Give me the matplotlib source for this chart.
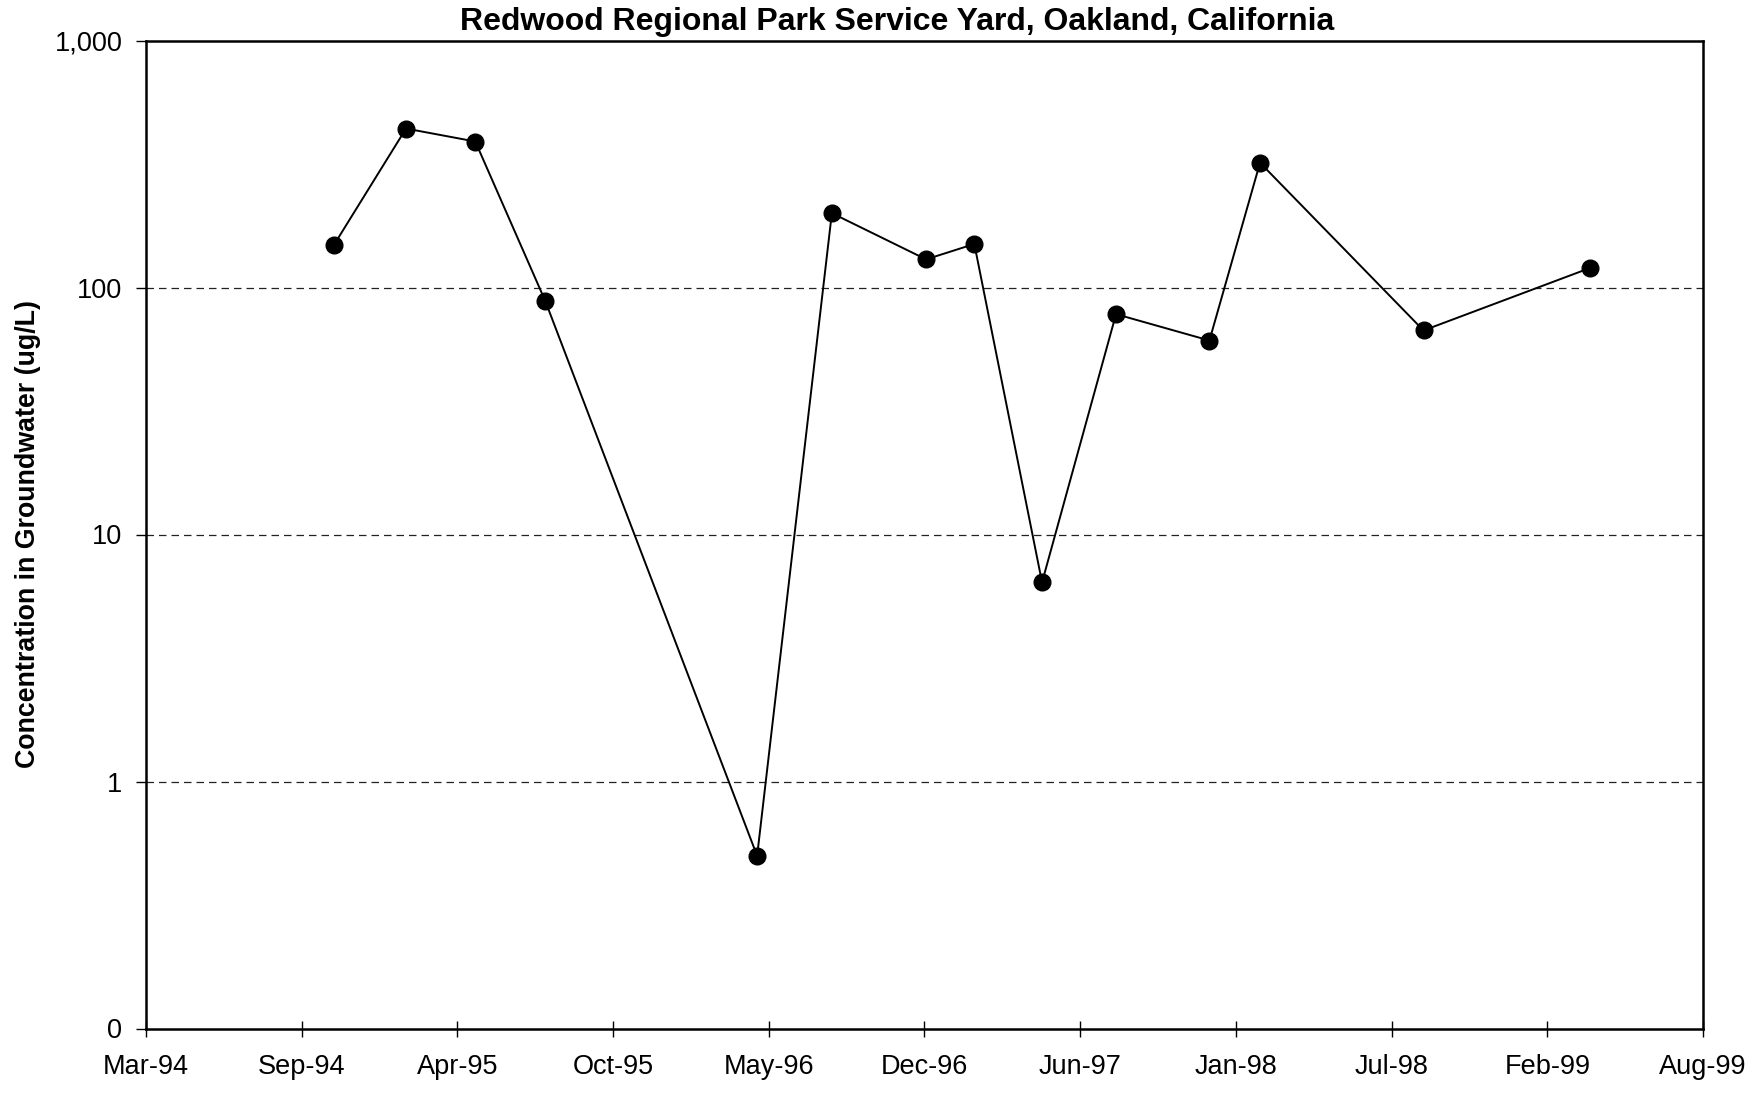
import datetime as dt
import matplotlib
matplotlib.use("Agg")
import matplotlib.pyplot as plt
import matplotlib.dates as mdates
from matplotlib.ticker import FixedLocator, FixedFormatter, NullLocator

plt.rcParams['font.family'] = ['Liberation Sans', 'DejaVu Sans']

# Groundwater sampling results
sample_dates = ["1994-11-04", "1995-02-05", "1995-05-05", "1995-08-03",
                "1996-05-01", "1996-08-05", "1996-12-04", "1997-02-04",
                "1997-05-02", "1997-08-05", "1997-12-03", "1998-02-06",
                "1998-09-04", "1999-04-06"]
concentration = [148, 440, 390, 88, 0.5, 200, 130, 150, 6.4, 78, 61, 320, 67, 120]

# Axis settings
axis_start = "1994-03-08"
tick_step_days = 200
x_tick_labels = ["Mar-94", "Sep-94", "Apr-95", "Oct-95", "May-96", "Dec-96",
                 "Jun-97", "Jan-98", "Jul-98", "Feb-99", "Aug-99"]
y_ticks = [0.1, 1, 10, 100, 1000]
y_tick_labels = ["0", "1", "10", "100", "1,000"]
grid_levels = [1, 10, 100]

title = "Redwood Regional Park Service Yard, Oakland, California"
ylabel = "Concentration in Groundwater (ug/L)"

W, H = 1748, 1094
fig = plt.figure(figsize=(W / 100, H / 100), dpi=100)
ax_left, ax_right, ax_top, ax_bottom = 146, 1703, 40.5, 1028.5
ax = fig.add_axes([ax_left / W, 1 - ax_bottom / H,
                   (ax_right - ax_left) / W, (ax_bottom - ax_top) / H])

dates = [dt.datetime.strptime(d, "%Y-%m-%d") for d in sample_dates]
start = dt.datetime.strptime(axis_start, "%Y-%m-%d")
tick_pos = [mdates.date2num(start + dt.timedelta(days=tick_step_days * i))
            for i in range(len(x_tick_labels))]

for lvl in grid_levels:
    ax.axhline(lvl, color="#222222", lw=0.9, ls=(0, (6, 4)), zorder=1)

ax.plot(mdates.date2num(dates), concentration, color="black", lw=1.4,
        marker="o", markersize=12, markerfacecolor="black",
        markeredgecolor="black", zorder=3)

ax.set_yscale("log")
ax.set_ylim(y_ticks[0], y_ticks[-1])
ax.set_xlim(tick_pos[0], tick_pos[-1])

ax.yaxis.set_major_locator(FixedLocator(y_ticks))
ax.yaxis.set_major_formatter(FixedFormatter(y_tick_labels))
ax.yaxis.set_minor_locator(NullLocator())
ax.xaxis.set_major_locator(FixedLocator(tick_pos))
ax.xaxis.set_major_formatter(FixedFormatter(x_tick_labels))
ax.xaxis.set_minor_locator(NullLocator())

ax.tick_params(axis="y", direction="out", length=7, width=1.0,
               labelsize=19.5, pad=10)
ax.tick_params(axis="x", direction="inout", length=11, width=1.0,
               labelsize=19.5, pad=13)

for s in ax.spines.values():
    s.set_linewidth(1.8)
    s.set_color("black")

fig.text(897 / W, 1 - 22 / H, title, ha="center", va="center",
         fontsize=23, fontweight="bold")
fig.text(28 / W, 1 - 534 / H, ylabel, ha="center", va="center",
         rotation=90, fontsize=19.3, fontweight="bold")

fig.savefig("out.png", dpi=100, facecolor="white")
